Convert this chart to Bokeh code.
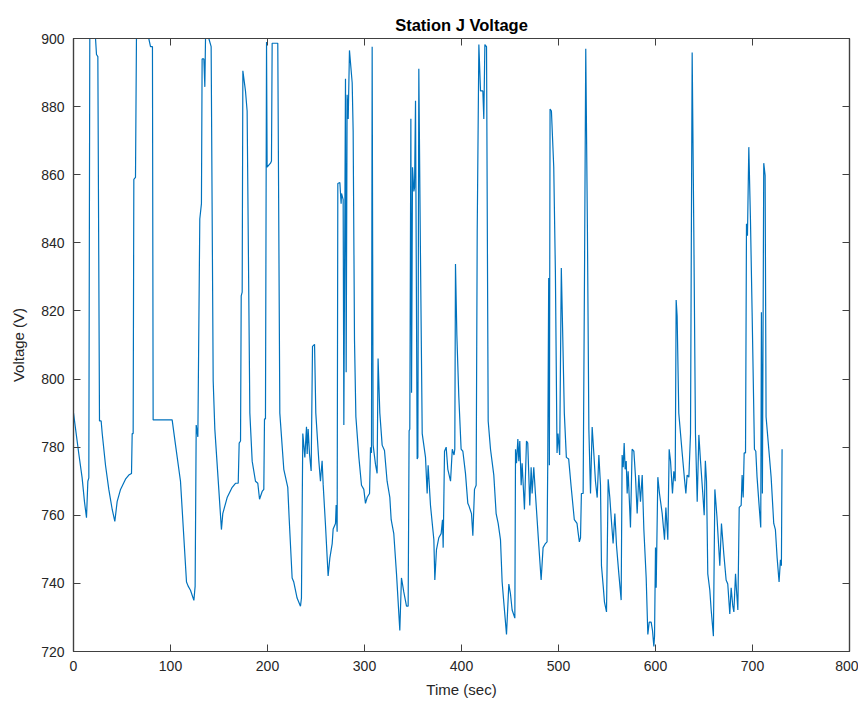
from bokeh.plotting import figure
from bokeh.models import LinearAxis, FixedTicker, Range1d, ColumnDataSource
from bokeh.embed import file_html
from bokeh.resources import INLINE

title_text = "Station J Voltage"
x_label = "Time (sec)"
y_label = "Voltage (V)"
x_ticks = [0, 100, 200, 300, 400, 500, 600, 700, 800]
y_ticks = [720, 740, 760, 780, 800, 820, 840, 860, 880, 900]

time_s = [
    0, 5.5, 8.9, 11.3, 13.4, 14.8, 15.8, 16.8, 22.7, 23.7, 25.1, 26.8, 28.5, 29.6, 33, 36.4, 39.9, 42.6,
    45, 48.5, 53.6, 57, 59.8, 60.5, 61.5, 62.2, 63.9, 64.9, 77.6, 79.4, 81.4, 82.1, 101.7, 105.2, 110.3,
    116.5, 118.2, 120.6, 124.1, 125.4, 126.5, 128.2, 130.2, 131.9, 132.6, 134.4, 135.4, 136.1, 139.5,
    141.9, 144, 145.7, 149.8, 152.5, 153.9, 158.4, 163.6, 167, 169.8, 170.8, 172.2, 172.9, 173.9, 174.6,
    177.3, 179, 181.8, 184.2, 187.6, 190, 191.8, 194.5, 196.2, 196.9, 197.9, 199, 199.6, 203.1, 204.1,
    204.8, 210.6, 212.7, 216.8, 220.9, 222.3, 225.4, 227.1, 230.5, 234, 235, 236.4, 238.5, 240.2, 240.9,
    241.9, 243.3, 245, 246.4, 248.5, 249.8, 252.9, 254.6, 256.3, 257.4, 259.8, 262.5, 264.3, 266.7,
    267.7, 270.1, 270.8, 271.8, 272.5, 274.6, 275.9, 276.3, 278, 278.7, 280.4, 281.1, 282.1, 283.2,
    284.5, 287.3, 288.3, 289.7, 291.1, 294.2, 296.9, 299.3, 301, 302.8, 305.2, 306.2, 307.2, 307.9,
    308.9, 311.3, 313, 314, 315.8, 318.2, 320.6, 323.3, 326.1, 327.5, 330.2, 333, 336.4, 338.1, 340.5,
    343.3, 345, 346, 346.7, 347.8, 348.5, 349.5, 350.9, 351.6, 352.6, 354.3, 355, 356, 357.7, 359.5,
    362.9, 364.6, 365.6, 368, 371.5, 372.5, 374.2, 376.6, 379, 380.4, 381.1, 382.5, 384.2, 385.9, 388.7,
    390.5, 392.3, 393.1, 393.8, 395.2, 397.2, 399.6, 401.4, 404.1, 406.5, 407.5, 410.3, 411.7, 413.4,
    415.1, 416.2, 417.9, 419.6, 422, 423, 424.1, 425.8, 427.5, 429.9, 433.3, 435.7, 437.8, 440.2, 441.9,
    443.6, 446.4, 448.8, 450.5, 452.2, 455, 455.7, 456.7, 458.1, 459.1, 460.1, 461.5, 462.5, 464.9, 467,
    468.3, 470.4, 471.8, 472.8, 474.5, 476.2, 479.7, 482.1, 484.1, 486.5, 488.2, 488.9, 489.9, 490.6,
    491.3, 492.7, 495.1, 496.8, 498.5, 499.5, 501.2, 502.9, 504.3, 506, 508.1, 510.5, 512.9, 516.3,
    519.1, 520.1, 521.5, 522.7, 523.6, 525.4, 526.9, 528.1, 529.8, 531.3, 533, 534.7, 536.4, 538.1,
    539.9, 541.6, 543.3, 544.3, 546.1, 547.4, 549.5, 551.2, 552.9, 554.6, 556.3, 558.1, 559.8, 562.2,
    564.6, 565.6, 566.7, 567.7, 568.7, 569.8, 570.8, 571.8, 574.2, 575.9, 577.7, 579.4, 581.1, 582.8,
    584.5, 586.3, 588, 590.4, 592.1, 593.5, 595.5, 596.9, 598.3, 599, 600, 600.7, 602.4, 604.1, 606.9,
    609.3, 610.7, 612.7, 614.1, 615.5, 617.5, 618.9, 620.3, 621.3, 622.3, 624, 627.5, 629.9, 631.3,
    632.6, 634.4, 636.1, 636.8, 637.8, 639.5, 641.2, 643, 644.7, 646.4, 648.6, 650.2, 651.4, 652.6,
    653.9, 656, 657.4, 659.7, 661.2, 663.3, 666.3, 668, 670.4, 672.8, 674.5, 676.6, 678, 679.7, 680.8,
    682.5, 683.5, 684.9, 686.3, 688.3, 689.3, 690.4, 691.4, 692.8, 693.8, 694.8, 696.2, 697.9, 699.6,
    702, 703.4, 704.7, 706.8, 708.5, 709.2, 710.2, 711.6, 713, 714, 716.8, 719.2, 721.9, 723.6, 725.4,
    727.4, 728.8, 729.8, 730.5,
]

voltage_v = [
    790, 778, 771, 764, 759.3, 770, 771, 900, 900, 895.3, 894.7, 787.7, 787.7, 784, 774.7, 767.6, 761.7, 758.2,
    764, 767.6, 770.6, 771.8, 772.3, 784, 784, 858.6, 859.2, 900, 900, 897.6, 897.6, 788, 788, 780.6, 770,
    740.4, 739.2, 738, 735, 739.2, 786.5, 783, 847, 851.5, 894, 894, 885.8, 900, 900,
    897.6, 799.5, 785.3, 767.6, 755.8, 760.5, 765.2, 768.2, 769.4, 769.4, 781.2, 781.8, 824.4, 825.5, 890.5,
    884.6, 878.7, 790, 775.9, 770, 769.4, 764.7, 767, 767.6, 788.3, 788.3, 899, 862.2, 863.4, 864,
    898.6, 898.6, 790, 773.5, 768.2, 759.3, 741.6, 740.4, 735.7, 733.3, 735.7, 784, 777, 786, 778,
    785.3, 778, 773, 809.6, 810.2, 790, 776, 770, 776, 769, 757, 742.2, 747.5, 751.7,
    756, 757.6, 763, 755.2, 857.4, 857.7, 851.5, 854.5, 852.7, 786.5, 888.2, 802, 883.5, 876.4,
    896.5, 887, 872.8, 811.3, 789, 777, 768.8, 767.6, 763.5, 765.3, 766.4, 780, 778.3, 897.6,
    780.6, 775, 772.3, 806, 790, 780.6, 779, 770, 765.3, 758.7, 754.6, 742.8, 726.2, 741.6, 737.5,
    733.3, 733.3, 784.8, 785.3, 876.4, 796, 862.2, 855.1, 856.3, 881.7, 776.5, 777, 891.1, 836.2, 784,
    777, 766.4, 774.7, 763, 752.8, 741, 749.9, 753.4, 754.6, 758.7, 750.5, 778.8, 780, 773.5, 770,
    779.4, 777.7, 779.4, 833.8, 813, 795, 779.4, 778.8, 772.3, 763.5, 762.9, 760.5, 754, 767.6,
    768.8, 843.3, 898.2, 884.6, 884.6, 876.4, 898.2, 897.6, 787.7, 779.4, 771.8, 760.5, 757.6, 752.8, 740.4,
    734.5, 725, 739.8, 736.9, 732.2, 729.8, 779.4, 775.3, 782.4, 775.9, 781.8, 768.8, 775.3, 761.7, 781.8,
    781.2, 762.9, 774.1, 766.4, 774.1, 766.4, 751.1, 741, 750.5, 751.7, 752.2, 774.7, 829.7, 774.7,
    879.3, 878.7, 862.2, 831.4, 778.3, 784, 777.7, 832.6, 813.7, 790, 777, 776.5, 768.8, 758.7,
    757.6, 755.2, 752.2, 753.4, 766.4, 766.4, 835, 897, 844.5, 785.3, 766.4, 785.9, 778.3, 770,
    765.2, 777.7, 768.8, 745.2, 739.2, 734.5, 731.6, 770.6, 765.2, 758.2, 751.7, 760.5, 751.1, 742.8,
    735.1, 777.7, 774.1, 781.2, 773.5, 775.9, 766.4, 772.9, 756.4, 779.4, 778.8, 771.2, 760.5, 771.8,
    764, 771.8, 755.8, 741.6, 725, 728.6, 728.6, 726.2, 721.5, 724.5, 750.5, 738.7, 771.2, 766.4, 760.5,
    752.8, 762.3, 752.8, 779.4, 775.9, 766.4, 772.9, 770, 823.2, 818.4, 790, 778.3, 770.6, 766.4,
    771.8, 771.2, 784, 831.4, 895.9, 843.3, 784, 764, 783.6, 776, 767, 760, 776, 770,
    742.8, 738, 732.2, 724.5, 767.6, 759.8, 745.2, 757.6, 748.7, 741, 739.8, 731, 738.7, 733.3, 731.6,
    742.8, 738, 732.2, 762.3, 762.9, 771.8, 765.2, 778.3, 778.3, 845.6, 842.1, 868.1, 846.8, 819.6,
    779.4, 778.8, 771.2, 762.9, 756.4, 819.6, 766.4, 863.4, 859.8, 788.9, 779.4, 771.2, 757.6, 755.8, 747.5,
    740.4, 746.9, 745.2, 779.4,
]

source = ColumnDataSource(data=dict(t=time_s, v=voltage_v))

AX = "#404040"
TXT = "#262626"
FONT = "Liberation Sans"

p = figure(
    width=858, height=703,
    x_range=Range1d(0, 800), y_range=Range1d(720, 900),
    output_backend="svg", toolbar_location=None,
    min_border_left=73, min_border_right=9, min_border_top=38, min_border_bottom=52,
    title=title_text,
)
p.title.align = "center"
p.title.text_font = FONT
p.title.text_font_size = "16.5px"
p.title.text_font_style = "bold"
p.title.text_color = "#000000"
p.title.standoff = 9

p.line("t", "v", source=source, line_color="#0072BD", line_width=1.2)

p.xgrid.grid_line_color = None
p.ygrid.grid_line_color = None
p.outline_line_color = AX
p.outline_line_width = 1.2

for ax in (p.xaxis[0], p.yaxis[0]):
    ax.major_tick_in = 7
    ax.major_tick_out = 0
    ax.minor_tick_line_color = None
    ax.axis_line_color = AX
    ax.axis_line_width = 1.2
    ax.major_tick_line_color = AX
    ax.major_label_text_font = FONT
    ax.major_label_text_font_size = "14px"
    ax.major_label_text_color = TXT
    ax.axis_label_text_font = FONT
    ax.axis_label_text_font_size = "15px"
    ax.axis_label_text_font_style = "normal"
    ax.axis_label_text_color = TXT

p.xaxis[0].major_label_standoff = 9
p.yaxis[0].major_label_standoff = 9
p.xaxis[0].ticker = FixedTicker(ticks=x_ticks)
p.yaxis[0].ticker = FixedTicker(ticks=y_ticks)
p.xaxis[0].axis_label = x_label
p.yaxis[0].axis_label = y_label
p.xaxis[0].axis_label_standoff = 7
p.yaxis[0].axis_label_standoff = 11

top_ax = LinearAxis(ticker=FixedTicker(ticks=x_ticks))
right_ax = LinearAxis(ticker=FixedTicker(ticks=y_ticks))
for ax in (top_ax, right_ax):
    ax.major_tick_in = 7
    ax.major_tick_out = 0
    ax.minor_tick_line_color = None
    ax.axis_line_color = AX
    ax.axis_line_width = 1.2
    ax.major_tick_line_color = AX
    ax.major_label_text_font_size = "1px"
    ax.major_label_text_color = None
    ax.major_label_standoff = 0
p.add_layout(top_ax, "above")
p.add_layout(right_ax, "right")

open("out.html", "w").write(file_html(p, INLINE))
